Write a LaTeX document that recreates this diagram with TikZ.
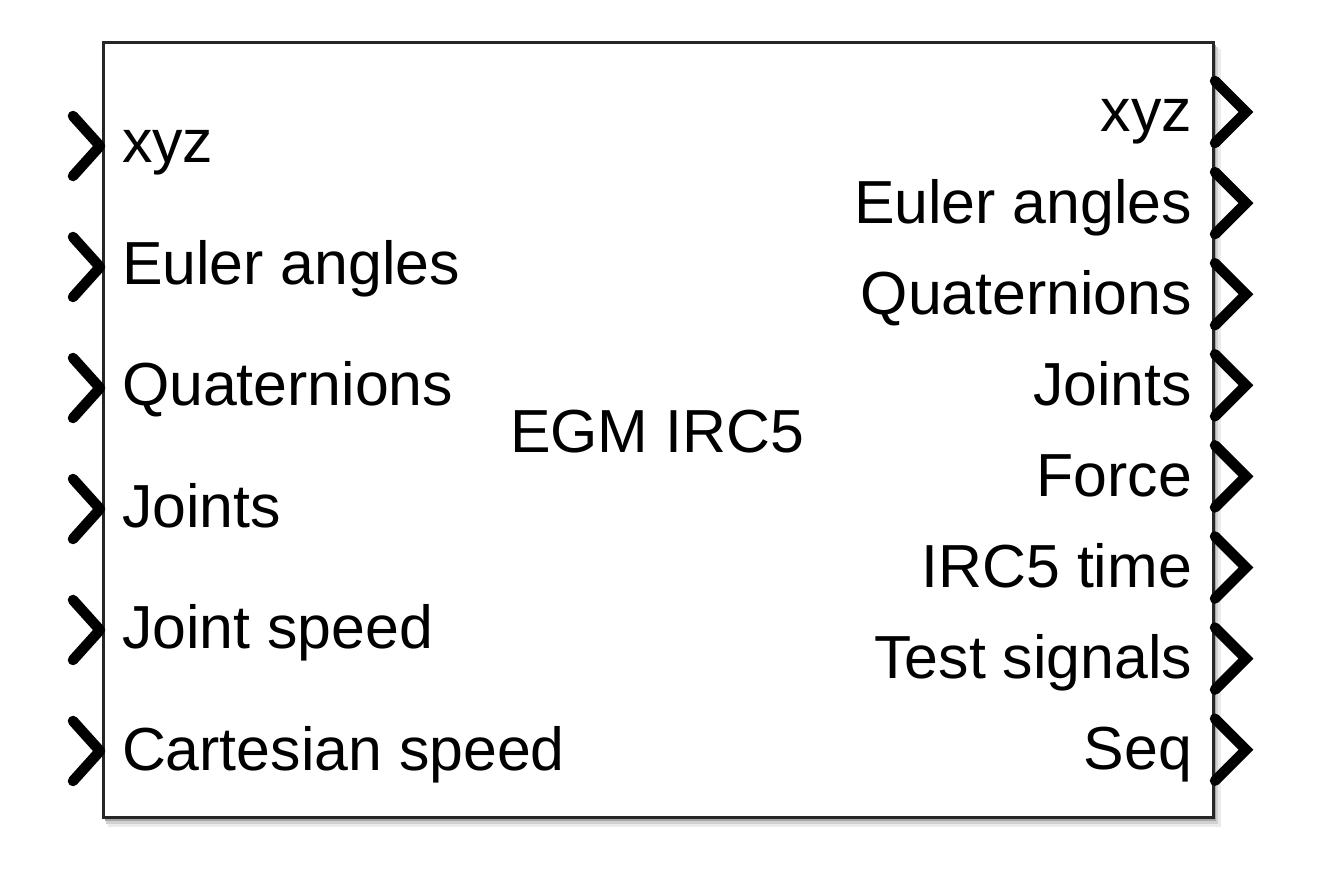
\documentclass[tikz,border=0pt]{standalone}
\usepackage{fontspec}
\setmainfont{Liberation Sans}
\begin{document}
\begin{tikzpicture}[x=1pt,y=-1pt,
  lbl/.style={inner sep=0pt, outer sep=0pt, font=\fontsize{60.8}{70}\selectfont},
  chev/.style={line width=10.5pt, line cap=round, line join=miter, black},
  chevin/.style={chev, line join=round}]
\useasboundingbox (0,0) rectangle (1328,882);
% shadow
\fill[black!8] (108,49) rectangle (1221,827);
\fill[black!18] (106,47) rectangle (1218,824);
\fill[black!35] (105,45) rectangle (1216,821);
% block
\node[draw=black!85, fill=white, line width=3pt, inner sep=0pt, outer sep=0pt,
  minimum width=1110pt, minimum height=774pt, anchor=north west] (blk) at (103,43) {};
% input ports
\foreach \i/\t in {0/xyz,1/Euler angles,2/Quaternions,3/Joints,4/Joint speed,5/Cartesian speed}{
  \pgfmathsetmacro{\cy}{146+121*\i}
  \pgfmathsetmacro{\by}{163+121.4*\i}
  \draw[chevin] (73,\cy-30) -- (100,\cy) -- (73,\cy+30);
  \node[lbl, anchor=base west] (in\i) at (122,\by) {\t};
}
% output ports
\foreach \i/\t in {0/xyz,1/Euler angles,2/Quaternions,3/Joints,4/Force,5/IRC5 time,6/Test signals,7/Seq}{
  \pgfmathsetmacro{\cy}{112+91.1*\i}
  \pgfmathsetmacro{\by}{132+91.1*\i}
  \draw[chev] (1215,\cy-31) -- (1246,\cy) -- (1215,\cy+31);
  \node[lbl, anchor=base east] (out\i) at (1192,\by) {\t};
}
\node[lbl, anchor=base] (title) at (657,452) {EGM IRC5};
\end{tikzpicture}
\end{document}
